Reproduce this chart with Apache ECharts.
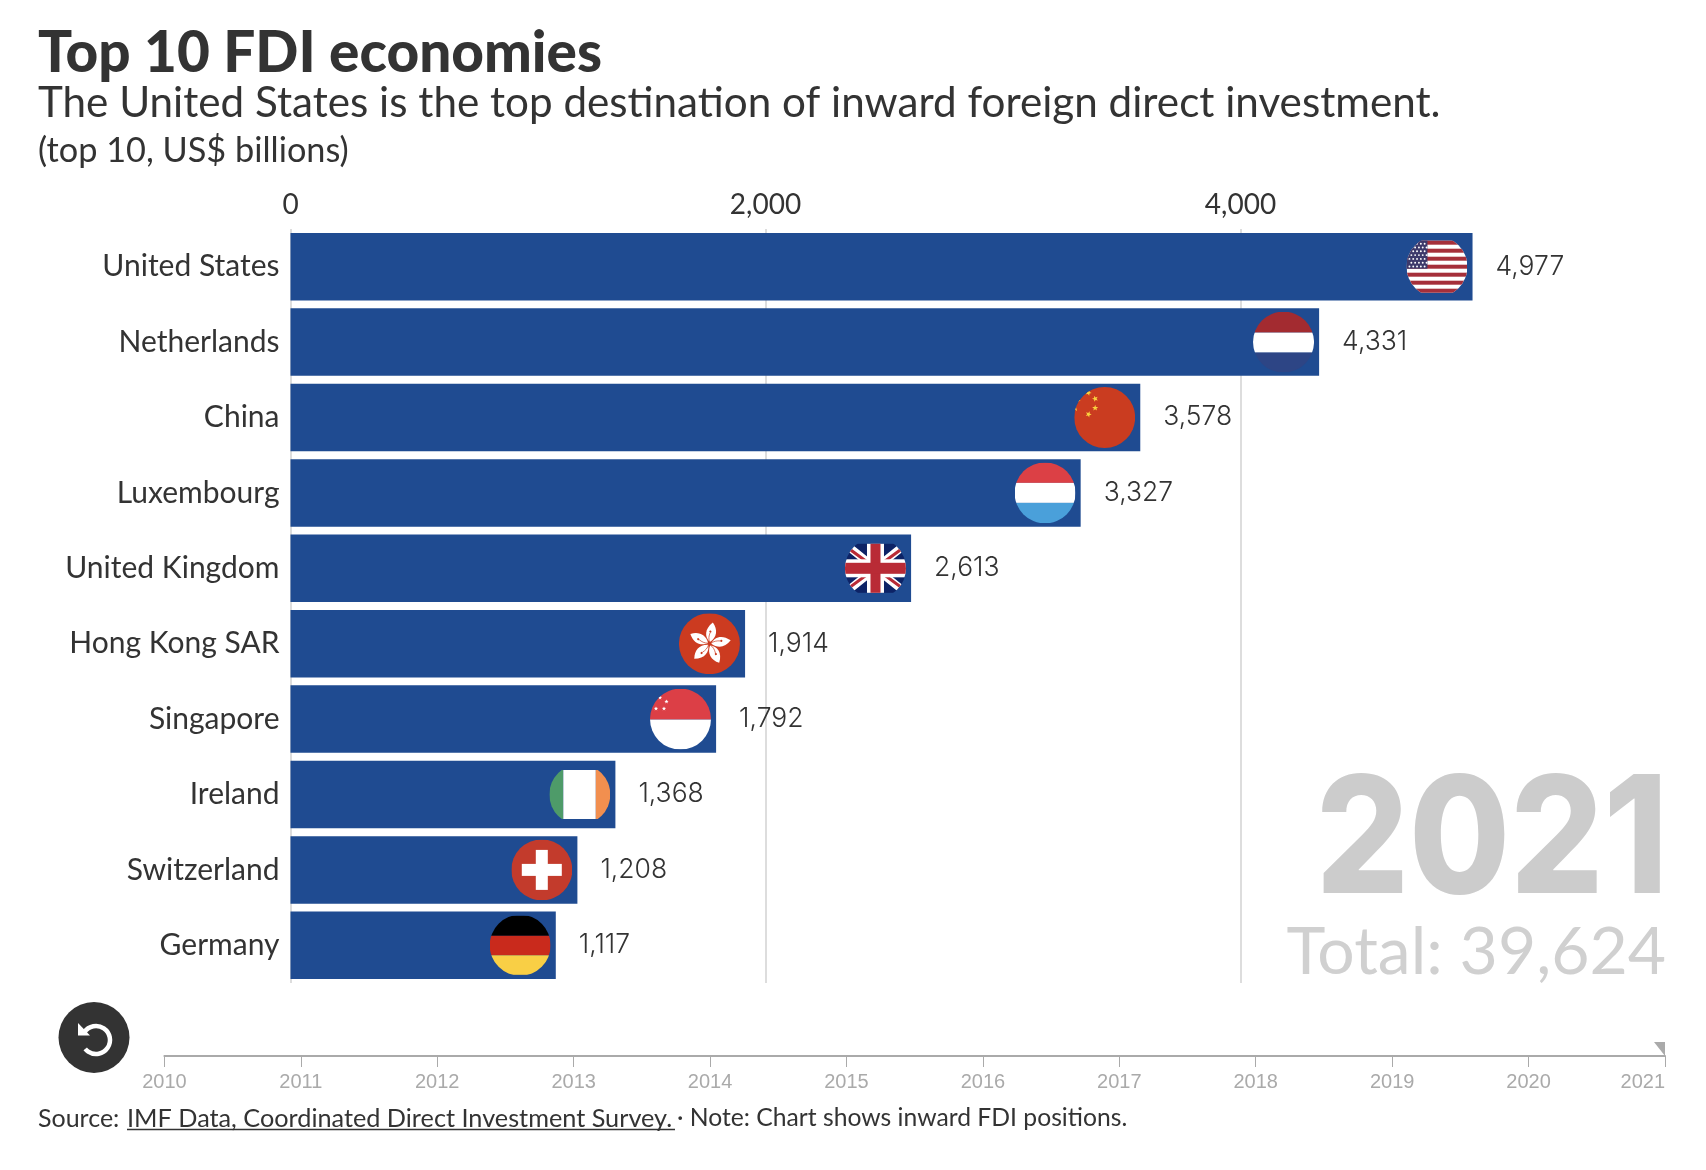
<!DOCTYPE html>
<html>
<head>
<meta charset="utf-8">
<title>Top 10 FDI economies</title>
<style>
    html,body{margin:0;padding:0;background:#fff;}
    #fdiChart{width:1706px;height:1170px;}
</style>
<script src="https://cdn.jsdelivr.net/npm/echarts@6/dist/echarts.min.js"></script>
</head>
<body>
<div id="fdiChart"></div>
<script>
var countries = ["United States","Netherlands","China","Luxembourg","United Kingdom","Hong Kong SAR","Singapore","Ireland","Switzerland","Germany"];
var fdiValues = [4977,4331,3578,3327,2613,1914,1792,1368,1208,1117];
var axisTicks = [0,2000,4000];
var timelineYears = ["2010","2011","2012","2013","2014","2015","2016","2017","2018","2019","2020","2021"];
var currentYear = "2021";
var totalValue = 39624;

var fontName = "Lato";
var digitFont = "Inter";   // Lato has a wide tabular 1, Inter's digits are proportional
var textColor = "#333333";

function fmt(v){
    return Number(v).toLocaleString("en-US");
}

// 5 point star as svg polygon
function star(cx,cy,r,fill,rot){
    var pts = [];
    for(var i = 0;i<10;i++){
        var rr = i % 2 ? r * 0.42 : r;
        var a = (rot || 0) - Math.PI / 2 + i * Math.PI / 5;
        pts.push((cx + rr * Math.cos(a)).toFixed(2) + "," + (cy + rr * Math.sin(a)).toFixed(2));
    }
    return '<polygon points="' + pts.join(" ") + '" fill="' + fill + '"/>';
}

function rect(x,y,w,h,fill){
    return '<rect x="' + x + '" y="' + y + '" width="' + w + '" height="' + h + '" fill="' + fill + '"/>';
}

function usFlag(){
    var s = rect(0,4.5,61,52,"#ffffff");
    for(var i = 0;i<7;i++){
        s += rect(0,4.5 + i * 8,61,4,"#a52f3a");
    }
    s += rect(0,4.5,21,28,"#3d3a6b");
    for(var r = 0;r<7;r++){
        for(var c = 0;c<5;c++){
            s += '<circle cx="' + (3 + c * 3.8 + (r % 2 ? 1.9 : 0)) + '" cy="' + (7.5 + r * 3.8) + '" r="0.95" fill="#fff"/>';
        }
    }
    return s;
}

function ukFlag(){
    return rect(0,6,61,49,"#0d2366")
        + '<path d="M0,6 L61,55 M61,6 L0,55" stroke="#fff" stroke-width="8"/>'
        + '<path d="M0,8 L30,30 M61,53 L31,31" stroke="#b92b36" stroke-width="3"/>'
        + '<path d="M61,8 L31,30 M0,53 L30,31" stroke="#b92b36" stroke-width="3"/>'
        + rect(22,6,17,49,"#fff") + rect(0,21.5,61,18,"#fff")
        + rect(25.5,6,10,49,"#b92b36") + rect(0,25,61,11,"#b92b36");
}

function hkFlag(){
    var s = rect(0,0,61,61,"#cc3b20");
    for(var i = 0;i<5;i++){
        s += '<g transform="rotate(' + (12 + i * 72) + ' 30.5 30.5) translate(30.5 30.5) scale(1.1)">'
            + '<path d="M0,-1.5 C-5.5,-5 -7.5,-12 -1,-19.5 C5,-14 5.5,-7 0,-1.5 Z" fill="#fff"/>'
            + '<circle cx="-1.5" cy="-11" r="1" fill="#cc3b20"/>'
            + '<path d="M0,-1 C-2,-4 -2,-7 -1.5,-10" stroke="#cc3b20" stroke-width="0.6" fill="none"/>'
            + '</g>';
    }
    return s;
}

var flagParts = {
    "United States":usFlag(),
    "Netherlands":rect(0,0,61,21,"#a32b30") + rect(0,21,61,20,"#fff") + rect(0,41,61,20,"#2d4585"),
    "China":rect(0,0,61,61,"#ca3c20") + star(-3,16,10,"#f9d33f") + star(14.3,5.7,3.2,"#f9d33f",0.4) + star(21,11.7,3.2,"#f9d33f",0.9) + star(21,21,3.2,"#f9d33f",0) + star(14.3,27.3,3.2,"#f9d33f",0.4),
    "Luxembourg":rect(0,0,61,20.5,"#dc4045") + rect(0,20.5,61,20,"#fff") + rect(0,40.5,61,20.5,"#4aa0da"),
    "United Kingdom":ukFlag(),
    "Hong Kong SAR":hkFlag(),
    "Singapore":rect(0,0,61,31,"#dc3f46") + rect(0,31,61,30,"#fff")
        + '<path d="M13,6 A11.5,11.5 0 0 0 1,26 A10,10 0 0 1 13,6 Z" fill="#fff"/>'
        + star(10,9,2.2,"#fff") + star(16.5,13,2.2,"#fff") + star(14,20,2.2,"#fff") + star(6,20,2.2,"#fff"),
    "Ireland":rect(0,6,14,49,"#4e9b69") + rect(14,6,32.5,49,"#fff") + rect(46.5,6,14.5,49,"#f28f4f"),
    "Switzerland":rect(0,0,61,61,"#c33b2c") + rect(24.5,10.5,12,40,"#fff") + rect(10.5,24.5,40,12,"#fff"),
    "Germany":rect(0,1,61,20,"#000") + rect(0,21,61,19.5,"#c92a1c") + rect(0,40.5,61,19.5,"#f9cf45")
};

function flagImage(name){
    var svg = '<svg xmlns="http://www.w3.org/2000/svg" width="244" height="244" viewBox="0 0 61 61">'
        + '<defs><clipPath id="c"><circle cx="30.5" cy="30.5" r="30.5"/></clipPath></defs>'
        + '<g clip-path="url(#c)">' + flagParts[name] + '</g></svg>';
    return "image://data:image/svg+xml;charset=utf-8," + encodeURIComponent(svg);
}

var flagData = countries.map(function(name,i){
    return {value:[fdiValues[i],name],symbol:flagImage(name)};
});

var option = {
    backgroundColor:"#fff",
    animation:false,
    textStyle:{fontFamily:fontName},
    title:[
        {text:"Top 10 FDI economies",left:33,top:20,textStyle:{fontFamily:fontName,fontSize:56.7,fontWeight:900,color:textColor}},
        {text:"The United States is the top destination of inward foreign direct investment.",left:33,top:77,textStyle:{fontFamily:fontName,fontSize:42.2,fontWeight:400,color:textColor}},
        {text:"(top 10, US$ billions)",left:33,top:129,textStyle:{fontFamily:fontName,fontSize:34.3,fontWeight:400,color:textColor}}
    ],
    grid:[
        {left:290.5,top:229,width:1330,height:754},
        {left:164.4,top:1055,width:1500.6,height:1}
    ],
    xAxis:[
        {
            type:"value",
            position:"top",
            min:axisTicks[0],
            max:5600,
            interval:axisTicks[1] - axisTicks[0],
            axisLine:{show:false},
            axisTick:{show:false},
            splitLine:{show:true,showMaxLine:false,lineStyle:{color:"#dddddd",width:2}},
            axisLabel:{showMaxLabel:false,margin:10,fontFamily:fontName,fontSize:28,color:textColor,formatter:fmt}
        },
        {
            type:"category",
            gridIndex:1,
            data:timelineYears,
            boundaryGap:false,
            position:"bottom",
            axisLine:{show:true,lineStyle:{color:"#aaaaaa",width:2}},
            axisTick:{show:true,alignWithLabel:true,length:11,lineStyle:{color:"#aaaaaa",width:1}},
            splitLine:{show:false},
            axisLabel:{interval:0,alignMaxLabel:"right",margin:16,fontFamily:"Liberation Sans",fontSize:20,color:"#aaaaaa"}
        }
    ],
    yAxis:[
        {
            type:"category",
            inverse:true,
            data:countries,
            axisLine:{show:false},
            axisTick:{show:false},
            axisLabel:{margin:11,padding:[0,0,2,0],fontFamily:fontName,fontSize:30,color:textColor}
        },
        {type:"value",gridIndex:1,min:0,max:1,show:false}
    ],
    series:[
        {
            name:"Inward FDI",
            type:"bar",
            data:fdiValues,
            barCategoryGap:"10.5%",
            itemStyle:{color:"#1f4b91"},
            label:{show:true,position:"right",distance:23,fontFamily:digitFont,fontWeight:300,fontSize:26.5,color:textColor,formatter:function(p){return fmt(p.value);}},
            silent:true
        },
        {
            name:"Flags",
            type:"scatter",
            data:flagData,
            symbolSize:61,
            symbolOffset:[-35.6,0],
            itemStyle:{opacity:1},
            z:5,
            silent:true
        },
        {
            name:"Current year",
            type:"scatter",
            xAxisIndex:1,
            yAxisIndex:1,
            data:[[currentYear,0]],
            symbol:"path://M0,0 L11,0 L11,14 Z",
            symbolSize:[11,14],
            symbolOffset:[-5.5,-7],
            itemStyle:{color:"#aaaaaa",opacity:1},
            clip:false,
            silent:true
        }
    ],
    graphic:[
        {type:"text",x:1668,y:762,scaleX:0.897,style:{text:currentYear,fontFamily:digitFont,fontSize:163,fontWeight:800,fill:"#cccccc",textAlign:"right"},z:3},
        {type:"text",right:40,top:920,style:{text:"Total: " + fmt(totalValue),fontFamily:fontName,fontSize:66,fontWeight:400,fill:"#d0d0d0",textAlign:"right"},z:3},
        {type:"circle",shape:{cx:94,cy:1037.5,r:35.5},style:{fill:"#333333"}},
        {type:"arc",shape:{cx:96,cy:1040,r:14,startAngle:-2.55,endAngle:2.45,clockwise:true},style:{stroke:"#ffffff",lineWidth:4.5,fill:null}},
        {type:"polygon",shape:{points:[[78,1023],[78,1035.5],[90,1035.5]]},style:{fill:"#ffffff"}},
        {type:"text",left:38,top:1106,style:{text:"Source: ",fontFamily:fontName,fontSize:25,fill:textColor}},
        {type:"text",left:127,top:1106,style:{text:"IMF Data, Coordinated Direct Investment Survey.",fontFamily:fontName,fontSize:25.25,fill:textColor}},
        {type:"line",shape:{x1:127,y1:1129.5,x2:675,y2:1129.5},style:{stroke:textColor,lineWidth:1.5}},
        {type:"text",left:677,top:1106,style:{text:"\u00b7 Note: Chart shows inward FDI positions.",fontFamily:fontName,fontSize:24.7,fill:textColor}}
    ]
};

var fdiChart = echarts.init(document.getElementById("fdiChart"));
fdiChart.setOption(option);
</script>
</body>
</html>
